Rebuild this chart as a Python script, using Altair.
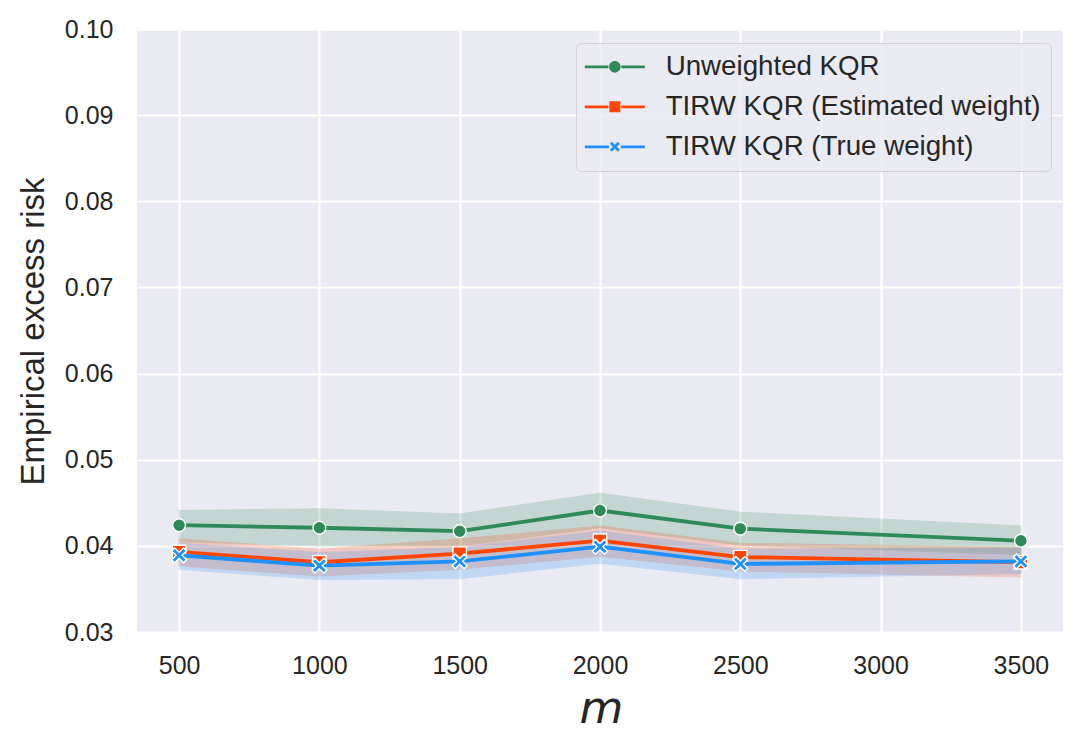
import altair as alt
import pandas as pd

# ---- data ----
m_values = [500, 1000, 1500, 2000, 2500, 3500]
series_names = ["Unweighted KQR", "TIRW KQR (Estimated weight)", "TIRW KQR (True weight)"]
colors = ["#2E8B57", "#FF4500", "#1E90FF"]

unweighted = [0.0424, 0.0421, 0.0417, 0.0441, 0.0420, 0.0406]
unweighted_lo = [0.0405, 0.0400, 0.0400, 0.0421, 0.0401, 0.0390]
unweighted_hi = [0.0441, 0.0443, 0.0437, 0.0461, 0.0439, 0.0423]

estimated = [0.0393, 0.0381, 0.0391, 0.0406, 0.0387, 0.0381]
estimated_lo = [0.0377, 0.0365, 0.0373, 0.0388, 0.0371, 0.0364]
estimated_hi = [0.0408, 0.0396, 0.0408, 0.0423, 0.0403, 0.0398]

true_w = [0.0389, 0.0377, 0.0382, 0.0399, 0.0379, 0.0382]
true_lo = [0.0373, 0.0361, 0.0362, 0.0380, 0.0362, 0.0368]
true_hi = [0.0403, 0.0392, 0.0398, 0.0417, 0.0396, 0.0397]

y_ticks = [0.03, 0.04, 0.05, 0.06, 0.07, 0.08, 0.09, 0.10]
x_ticks = [500, 1000, 1500, 2000, 2500, 3000, 3500]

rows = []
for name, v, lo, hi in zip(series_names,
                           [unweighted, estimated, true_w],
                           [unweighted_lo, estimated_lo, true_lo],
                           [unweighted_hi, estimated_hi, true_hi]):
    for m, a, b, c in zip(m_values, v, lo, hi):
        rows.append({"m": m, "series": name, "value": a, "lo": b, "hi": c})
df = pd.DataFrame(rows)

# ---- marker shapes ----
def xpath(s, cx=0.0):
    pts = [(-1, -0.6), (-0.6, -1), (0, -0.4), (0.6, -1), (1, -0.6), (0.4, 0),
           (1, 0.6), (0.6, 1), (0, 0.4), (-0.6, 1), (-1, 0.6), (-0.4, 0)]
    return "M" + " L".join(f"{x*s+cx:.3f},{y*s:.3f}" for x, y in pts) + " Z"

X_SHAPE = xpath(1.0)

def seg(a, b, h=0.14):
    return f"M{a:.2f},{-h} H{b:.2f} V{h} H{a:.2f} Z"

L0, c, L1 = -1.5, 1.5, 4.5
leg_circle = seg(L0, c - 0.65) + " " + seg(c + 0.65, L1) + \
    f" M{c-0.58:.2f},0 A0.58,0.58 0 1,0 {c+0.58:.2f},0 A0.58,0.58 0 1,0 {c-0.58:.2f},0 Z"
leg_square = seg(L0, c - 0.65) + " " + seg(c + 0.65, L1) + \
    f" M{c-0.55:.2f},-0.55 H{c+0.55:.2f} V0.55 H{c-0.55:.2f} Z"
leg_x = seg(L0, c - 0.6) + " " + seg(c + 0.6, L1) + " " + xpath(0.5, c)

FONT = "Liberation Sans"
TXT = "#262626"

x_enc = alt.X("m:Q", scale=alt.Scale(domain=[350, 3650], nice=False, zero=False),
              axis=alt.Axis(values=x_ticks, format="d", title="m",
                            titleFont="DejaVu Sans", titleFontStyle="italic",
                            titleFontSize=45, titleFontWeight="normal",
                            titleX=464, titleY=90, titleBaseline="alphabetic",
                            labelPadding=21))
y_scale = alt.Scale(domain=[0.03, 0.10], nice=False, zero=False)
y_enc = alt.Y("value:Q", scale=y_scale,
              axis=alt.Axis(values=y_ticks, format=".2f", title="Empirical excess risk",
                            titleFontSize=33, titleFontWeight="normal",
                            titleX=-104, titleY=302, titleAngle=-90,
                            titleAlign="center", titleBaseline="middle",
                            labelPadding=24))
color_scale = alt.Scale(domain=series_names, range=colors)

base = alt.Chart(df)

marker_specs = [("circle", 165), ("square", 180), (X_SHAPE, 220)]
band_layers, line_layers = [], []
for name, col, (shp, sz) in zip(series_names, colors, marker_specs):
    sub = base.transform_filter(alt.datum.series == name)
    band_layers.append(sub.mark_area(opacity=0.2, strokeWidth=1.2, color=col,
                                     stroke=col).encode(
        x=x_enc, y=alt.Y("lo:Q", scale=y_scale), y2="hi:Q"))
    line_layers.append(sub.mark_line(strokeWidth=3.8, color=col).encode(
        x=x_enc, y=y_enc))
    line_layers.append(sub.mark_point(filled=True, shape=shp, size=sz, fill=col,
                                      stroke="white", strokeWidth=1.4,
                                      opacity=1).encode(x=x_enc, y=y_enc))

legend = alt.Legend(title=None, orient="none", legendX=439, legendY=14,
                    labelFont=FONT, labelFontSize=27.7, labelColor=TXT,
                    symbolSize=400, symbolStrokeWidth=0, symbolOpacity=1,
                    labelOffset=52, rowPadding=11, padding=10,
                    fillColor="rgba(234,234,242,0.8)", strokeColor="#d2d2d8",
                    cornerRadius=5, labelLimit=600)
legend_layer = base.mark_point(filled=True, opacity=0, strokeWidth=0).encode(
    x=x_enc, y=y_enc,
    color=alt.Color("series:N", scale=color_scale, legend=legend),
    shape=alt.Shape("series:N", scale=alt.Scale(domain=series_names,
                                                range=[leg_circle, leg_square, leg_x]),
                    legend=legend),
)

chart = alt.layer(*band_layers, *line_layers, legend_layer).properties(
    width=926, height=603,
    autosize=alt.AutoSizeParams(type="none"),
    padding={"left": 129, "top": 21, "right": 14, "bottom": 100},
    background="white",
).configure_view(
    fill="#EAEAF2", stroke=None,
).configure_axis(
    grid=True, gridColor="white", gridWidth=2, domain=False, ticks=False, tickSize=0,
    labelFont=FONT, labelFontSize=25, labelColor=TXT,
    titleFont=FONT, titleColor=TXT,
)

chart.save("out.html", embed_options={"renderer": "svg", "actions": False})
